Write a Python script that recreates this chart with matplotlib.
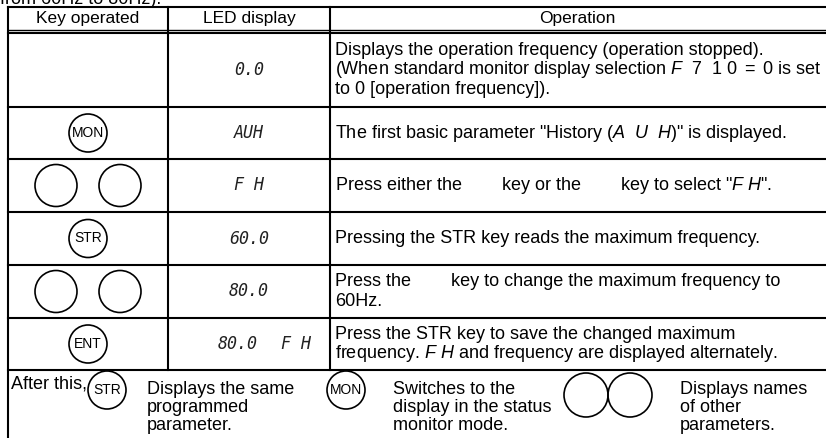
import matplotlib
matplotlib.use("Agg")
import matplotlib.pyplot as plt
from matplotlib.patches import Circle

plt.rcParams['font.family'] = ['Liberation Sans', 'DejaVu Sans']
plt.rcParams['mathtext.fontset'] = 'custom'
plt.rcParams['mathtext.rm'] = 'Liberation Sans'
plt.rcParams['mathtext.it'] = 'Liberation Sans:italic'

# table content
headers = ["Key operated", "LED display", "Operation"]
keys = ["", "MON", "arrows", "STR", "arrows", "ENT"]
led_main = ["0.0", "AUH", "F H", "60.0", "80.0", "80.0"]
led_extra = ["", "", "", "", "", "F H"]
ops = [
    ["Displays the operation frequency (operation stopped).",
     r"(When standard monitor display selection $\mathit{F\ \ 7\ \ 1\ 0\ {=}\ 0}$ is set",
     "to 0 [operation frequency])."],
    [r'The first basic parameter "History ($\mathit{A\ \ U\ \ H}$)" is displayed.'],
    [r'Press either the        key or the        key to select "$\mathit{F\ H}$".'],
    ["Pressing the STR key reads the maximum frequency."],
    ["Press the        key to change the maximum frequency to", "60Hz."],
    ["Press the STR key to save the changed maximum",
     r"frequency. $\mathit{F\ H}$ and frequency are displayed alternately."],
]
after_label = "After this,"
after_keys = ["STR", "MON", "arrows"]
after_texts = [["Displays the same", "programmed", "parameter."],
               ["Switches to the", "display in the status", "monitor mode."],
               ["Displays names", "of other", "parameters."]]

# layout (pixels)
x_left, x_c1, x_c2, x_right = 8, 168, 330, 825
y_top = 7
row_edges = [33, 107, 159, 212, 265, 318, 370]
fs = 13
lw = 1.5

fig = plt.figure(figsize=(8.26, 4.38), dpi=100)
ax = fig.add_axes([0, 0, 1, 1])
ax.set_xlim(0, 826)
ax.set_ylim(438, 0)
ax.axis('off')

ax.text(0, 4, "from 60Hz to 80Hz).", fontsize=fs, va='baseline', ha='left')

# grid lines
ax.plot([x_left, x_right], [y_top, y_top], color='k', lw=lw)
ax.plot([x_left, x_right], [30, 30], color='k', lw=1.0)
for y in row_edges:
    ax.plot([x_left, x_right], [y, y], color='k', lw=lw)
ax.plot([x_left, x_left], [y_top, 438], color='k', lw=lw)
for x in (x_c1, x_c2):
    ax.plot([x, x], [y_top, row_edges[-1]], color='k', lw=lw)

# header
hx = [(x_left + x_c1) / 2, (x_c1 + x_c2) / 2, (x_c2 + x_right) / 2]
for x, h in zip(hx, headers):
    ax.text(x, 19, h, fontsize=12.5, ha='center', va='center')


def key(x, y, label, r=19):
    ax.add_patch(Circle((x, y), r, fill=False, lw=1.2, ec='k'))
    if label:
        ax.text(x, y, label, fontsize=10, ha='center', va='center')


def arrows(x, y, r=21, gap=64):
    ax.add_patch(Circle((x - gap / 2, y), r, fill=False, lw=1.2, ec='k'))
    ax.add_patch(Circle((x + gap / 2, y), r, fill=False, lw=1.2, ec='k'))


led_style = dict(fontsize=12, family='DejaVu Sans Mono', style='oblique',
                 ha='center', va='center', color='#222222')

for i in range(len(keys)):
    y0, y1 = row_edges[i], row_edges[i + 1]
    yc = (y0 + y1) / 2
    if keys[i] == "arrows":
        arrows(hx[0], yc)
    elif keys[i]:
        key(hx[0], yc, keys[i])
    if led_extra[i]:
        ax.text(238, yc, led_main[i], **led_style)
        ax.text(296, yc, led_extra[i], **led_style)
    else:
        ax.text(hx[1], yc, led_main[i], **led_style)
    n = len(ops[i])
    for j, line in enumerate(ops[i]):
        ax.text(x_c2 + 5, yc + (j - (n - 1) / 2) * 19.5, line, fontsize=fs,
                ha='left', va='center')

# last row
ax.text(11, 384, after_label, fontsize=fs, ha='left', va='center')
key_x = [107, 346, 608]
text_x = [147, 393, 680]
for kx, tx, k, lines in zip(key_x, text_x, after_keys, after_texts):
    if k == "arrows":
        arrows(kx, 395, r=22, gap=44)
    else:
        key(kx, 390, k, r=19)
    for j, line in enumerate(lines):
        ax.text(tx, 389 + j * 18.5, line, fontsize=fs, ha='left', va='center')

fig.savefig('out.png', dpi=100)
